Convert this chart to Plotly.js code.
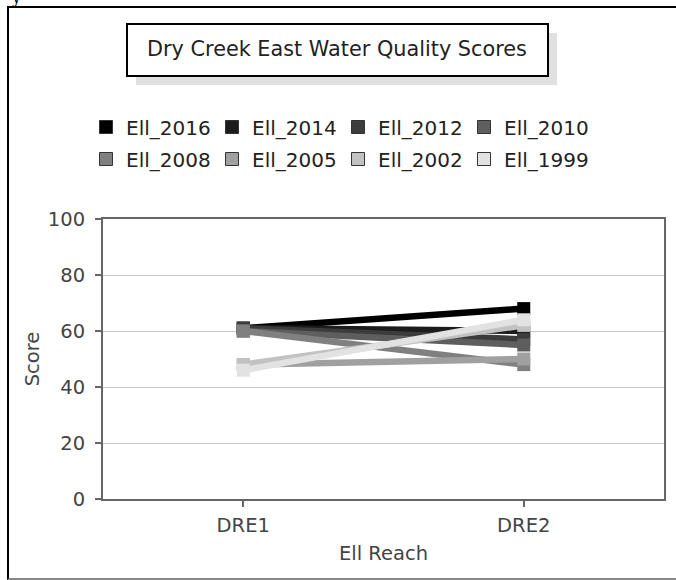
<!DOCTYPE html>
<html>
<head>
<meta charset="utf-8">
<script src="https://cdn.plot.ly/plotly-3.0.1.min.js"></script>
<style>
  html, body { margin: 0; padding: 0; background: #fff; }
  #wrap { position: relative; width: 676px; height: 580px; overflow: hidden; }
  #chart { position: absolute; left: 0; top: 0; width: 676px; height: 580px; }
  #frame { position: absolute; left: 7px; top: 6px; width: 676px; height: 570px;
           border-left: 2px solid #000; border-top: 2px solid #000; border-bottom: 2px solid #888;
           pointer-events: none; }
  #frag { position: absolute; left: 12px; top: -12px; font: 16px "DejaVu Serif"; color: #000; }
</style>
</head>
<body>
<div id="wrap">
  <div id="chart"></div>
  <div id="frame"></div>
  <div id="frag">y</div>
</div>
<script>
const reaches = ["DRE1", "DRE2"];
const legendLabels = ["Ell_2016", "Ell_2014", "Ell_2012", "Ell_2010", "Ell_2008", "Ell_2005", "Ell_2002", "Ell_1999"];
const eii2016 = [61, 68];
const eii2014 = [61, 60];
const eii2012 = [61, 57];
const eii2010 = [60, 55];
const eii2008 = [60, 48];
const eii2005 = [48, 50];
const eii2002 = [48, 62];
const eii1999 = [46, 64];
const yTicks = [0, 20, 40, 60, 80, 100];

const values = [eii2016, eii2014, eii2012, eii2010, eii2008, eii2005, eii2002, eii1999];
const colors = ["#000000", "#1c1c1c", "#3c3c3c", "#5e5e5e", "#808080", "#a0a0a0", "#c2c2c2", "#e2e2e2"];
const FONT = "DejaVu Sans, sans-serif";

// plot area in pixels
const L = 103, R = 664, T = 219, B = 499;
const W = 676, H = 580;
const px = x => (x - L) / (R - L);
const py = y => (B - y) / (B - T);

const traces = [];
for (let i = 0; i < values.length; i++) {
  traces.push({
    type: "scatter", mode: "lines+markers",
    x: reaches, y: values[i], name: legendLabels[i],
    line: { color: colors[i], width: 6.5 },
    marker: { symbol: "square", size: 13, color: colors[i] },
    showlegend: false, hoverinfo: "x+y+name"
  });
}
for (let i = 0; i < values.length; i++) {
  traces.push({
    type: "scatter", mode: "markers",
    x: [null], y: [null], name: legendLabels[i],
    legend: i < 4 ? "legend" : "legend2",
    marker: { symbol: "square", size: 13, color: colors[i], line: { color: "#333", width: 1 } },
    showlegend: true
  });
}

const legendBase = {
  orientation: "h", xanchor: "left", yanchor: "middle",
  entrywidth: 81, entrywidthmode: "pixels",
  font: { family: FONT, size: 20, color: "#222" },
  bgcolor: "rgba(0,0,0,0)", itemclick: false, itemdoubleclick: false
};

const layout = {
  width: W, height: H,
  margin: { l: L, r: W - R, t: T, b: H - B, pad: 0 },
  paper_bgcolor: "#fff", plot_bgcolor: "#fff",
  font: { family: FONT, size: 20, color: "#333" },
  title: {
    text: "Dry Creek East Water Quality Scores",
    font: { family: FONT, size: 20.8, color: "#222" },
    x: 337 / W, xanchor: "center",
    y: 1 - 49 / H, yanchor: "middle", yref: "container"
  },
  xaxis: {
    type: "category", range: [-0.5, 1.5],
    showline: true, linecolor: "#666", linewidth: 2, mirror: true,
    ticks: "outside", ticklen: 6, tickcolor: "#666", tickwidth: 2,
    showgrid: false, zeroline: false, ticklabelstandoff: 2,
    tickfont: { family: FONT, size: 19.5, color: "#444" },
    title: { text: "Ell Reach", font: { family: FONT, size: 19.5, color: "#444" }, standoff: 10 }
  },
  yaxis: {
    range: [0, 100], tickvals: yTicks,
    showline: true, linecolor: "#666", linewidth: 2, mirror: true,
    ticks: "outside", ticklen: 6, tickcolor: "#666", tickwidth: 2,
    showgrid: true, gridcolor: "#c8c8c8", gridwidth: 1, zeroline: false,
    ticklabelstandoff: 6,
    tickfont: { family: FONT, size: 19.5, color: "#444" },
    title: { text: "Score", font: { family: FONT, size: 19.5, color: "#444" }, standoff: 3 }
  },
  showlegend: true,
  legend: Object.assign({}, legendBase, { x: px(86), y: py(127) }),
  legend2: Object.assign({}, legendBase, { x: px(86), y: py(159) }),
  shapes: [
    { type: "rect", xref: "paper", yref: "paper", x0: px(136), x1: px(557), y0: py(33), y1: py(85),
      fillcolor: "#e0e0e0", line: { width: 0 }, layer: "below" },
    { type: "rect", xref: "paper", yref: "paper", x0: px(127), x1: px(548), y0: py(24), y1: py(76),
      fillcolor: "#fff", line: { width: 2, color: "#000" }, layer: "below" }
  ]
};

Plotly.newPlot("chart", traces, layout, { displayModeBar: false, staticPlot: true });
</script>
</body>
</html>
